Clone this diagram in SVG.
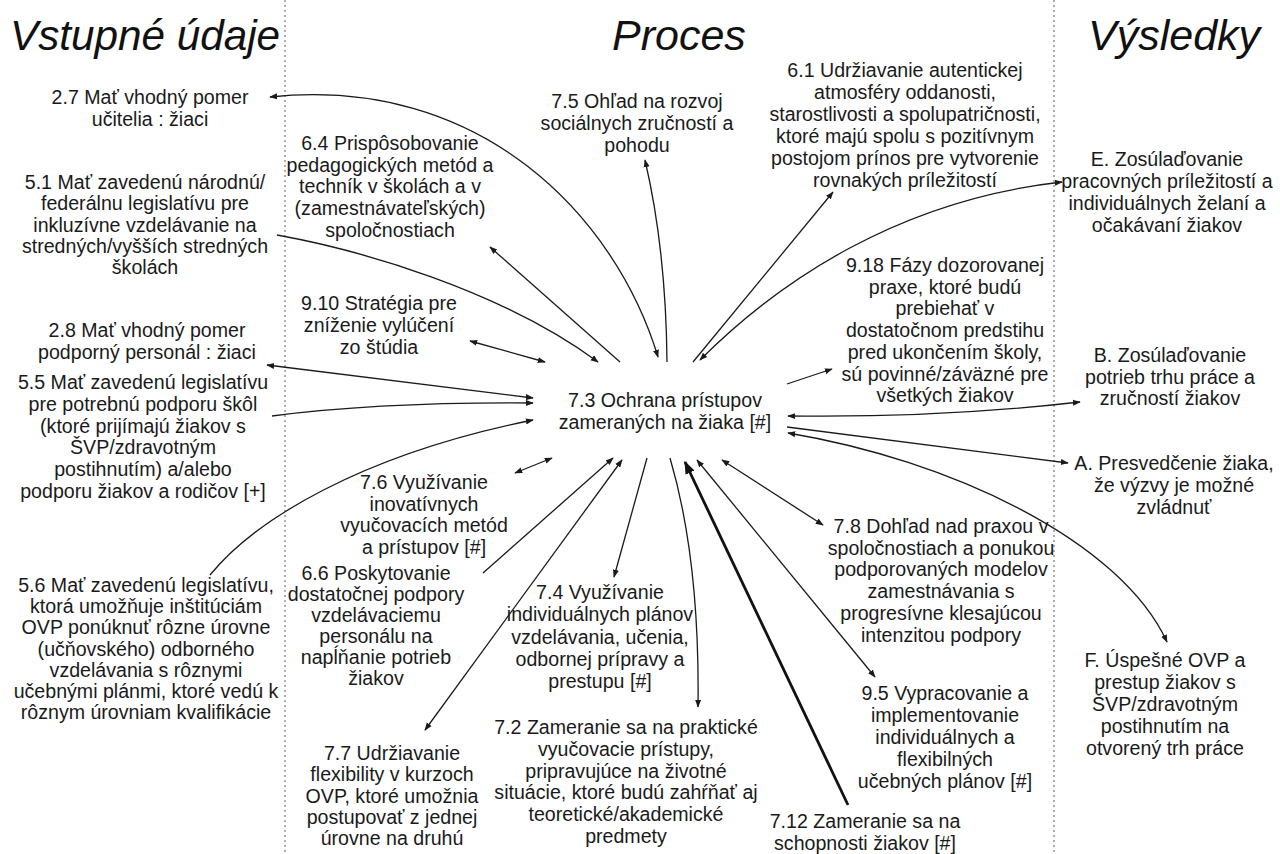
<svg xmlns="http://www.w3.org/2000/svg" width="1280" height="854" viewBox="0 0 1280 854">
<style>
.t{font-family:"Liberation Sans",Arial,Helvetica,sans-serif;font-size:19.6px;fill:#1a1a1a;text-anchor:middle}
.h{font-family:"Liberation Sans",Arial,Helvetica,sans-serif;font-size:43px;font-style:italic;fill:#111}
.c{fill:none;stroke:#1a1a1a;stroke-width:1.3;marker-end:url(#ah)}
.d{fill:none;stroke:#1a1a1a;stroke-width:1.3;marker-start:url(#ah);marker-end:url(#ah)}
.k{fill:none;stroke:#111;stroke-width:2.8;marker-end:url(#ahb)}
.dv{stroke:#999;stroke-width:1.6;stroke-dasharray:2 3}
</style>
<defs>
<marker id="ah" viewBox="0 0 10 10" refX="9" refY="5" markerWidth="8" markerHeight="8" markerUnits="userSpaceOnUse" orient="auto-start-reverse"><path d="M0,1.2 L10,5 L0,8.8 z" fill="#1a1a1a"/></marker>
<marker id="ahb" viewBox="0 0 10 10" refX="9" refY="5" markerWidth="13" markerHeight="13" markerUnits="userSpaceOnUse" orient="auto"><path d="M0,1.2 L10,5 L0,8.8 z" fill="#111"/></marker>
</defs>
<rect width="1280" height="854" fill="#fff"/>
<g id="dividers">
<line class="dv" x1="285" y1="0" x2="285" y2="854"/>
<line class="dv" x1="1054" y1="0" x2="1054" y2="854"/>
</g>
<g id="titles">
<text class="h" x="10" y="50" textLength="270" lengthAdjust="spacingAndGlyphs">Vstupné údaje</text>
<text class="h" x="612" y="50">Proces</text>
<text class="h" x="1088" y="50">Výsledky</text>
</g>
<g id="connectors">
<path class="d" d="M270 97 C480 75 615 215 658 357"/>
<path class="c" d="M277 235 C360 250 500 290 598 362"/>
<path class="c" d="M620 362 L490 247"/>
<path class="d" d="M470 341 L545 362"/>
<path class="c" d="M667 362 Q666 250 645 160"/>
<path class="c" d="M693 362 L833 192"/>
<path class="d" d="M700 360 C780 280 900 200 1062 182"/>
<path class="c" d="M787 384 L832 369"/>
<path class="d" d="M788 416 Q940 418 1080 402"/>
<path class="c" d="M787 427 L1068 463"/>
<path class="d" d="M788 433 C950 460 1120 540 1167 642"/>
<path class="d" d="M722 460 L823 525"/>
<path class="d" d="M697 460 L875 677"/>
<path class="k" d="M848 805 L685 462"/>
<path class="c" d="M670 458 Q700 560 698 707"/>
<path class="c" d="M647 458 L614 577"/>
<path class="d" d="M622 460 L425 730"/>
<path class="c" d="M483 573 L613 458"/>
<path class="d" d="M515 473 L552 458"/>
<path class="c" d="M210 575 C255 520 360 455 533 420"/>
<path class="c" d="M272 416 Q380 402 533 403"/>
<path class="d" d="M267 365 Q400 382 533 398"/>
</g>
<g id="n27"><text class="t" x="150" y="104">2.7 Mať vhodný pomer<tspan x="150" dy="21.5">učitelia : žiaci</tspan></text></g>
<g id="n51"><text class="t" x="145" y="189">5.1 Mať zavedenú národnú/<tspan x="145" dy="21.3">federálnu legislatívu pre</tspan><tspan x="145" dy="21.3">inkluzívne vzdelávanie na</tspan><tspan x="145" dy="21.3">stredných/vyšších stredných</tspan><tspan x="145" dy="21.3">školách</tspan></text></g>
<g id="n28"><text class="t" x="147" y="337">2.8 Mať vhodný pomer<tspan x="147" dy="22">podporný personál : žiaci</tspan></text></g>
<g id="n55"><text class="t" x="143" y="389">5.5 Mať zavedenú legislatívu<tspan x="143" dy="21.8">pre potrebnú podporu škôl</tspan><tspan x="143" dy="21.8">(ktoré prijímajú žiakov s</tspan><tspan x="143" dy="21.8">ŠVP/zdravotným</tspan><tspan x="143" dy="21.8">postihnutím) a/alebo</tspan><tspan x="143" dy="21.8">podporu žiakov a rodičov [+]</tspan></text></g>
<g id="n56"><text class="t" x="146" y="592">5.6 Mať zavedenú legislatívu,<tspan x="146" dy="21.2">ktorá umožňuje inštitúciám</tspan><tspan x="146" dy="21.2">OVP ponúknuť rôzne úrovne</tspan><tspan x="146" dy="21.2">(učňovského) odborného</tspan><tspan x="146" dy="21.2">vzdelávania s rôznymi</tspan><tspan x="146" dy="21.2">učebnými plánmi, ktoré vedú k</tspan><tspan x="146" dy="21.2">rôznym úrovniam kvalifikácie</tspan></text></g>
<g id="n64"><text class="t" x="390" y="150">6.4 Prispôsobovanie<tspan x="390" dy="21.7">pedagogických metód a</tspan><tspan x="390" dy="21.7">techník v školách a v</tspan><tspan x="390" dy="21.7">(zamestnávateľských)</tspan><tspan x="390" dy="21.7">spoločnostiach</tspan></text></g>
<g id="n75"><text class="t" x="637" y="108">7.5 Ohľad na rozvoj<tspan x="637" dy="22">sociálnych zručností a</tspan><tspan x="637" dy="22">pohodu</tspan></text></g>
<g id="n61"><text class="t" x="905" y="77">6.1 Udržiavanie autentickej<tspan x="905" dy="22">atmosféry oddanosti,</tspan><tspan x="905" dy="22">starostlivosti a spolupatričnosti,</tspan><tspan x="905" dy="22">ktoré majú spolu s pozitívnym</tspan><tspan x="905" dy="22">postojom prínos pre vytvorenie</tspan><tspan x="905" dy="22">rovnakých príležitostí</tspan></text></g>
<g id="n910"><text class="t" x="379" y="310">9.10 Stratégia pre<tspan x="379" dy="22">zníženie vylúčení</tspan><tspan x="379" dy="22">zo štúdia</tspan></text></g>
<g id="n73"><text class="t" x="665" y="407">7.3 Ochrana prístupov<tspan x="665" dy="22">zameraných na žiaka [#]</tspan></text></g>
<g id="n918"><text class="t" x="945" y="272">9.18 Fázy dozorovanej<tspan x="945" dy="21.7">praxe, ktoré budú</tspan><tspan x="945" dy="21.7">prebiehať v</tspan><tspan x="945" dy="21.7">dostatočnom predstihu</tspan><tspan x="945" dy="21.7">pred ukončením školy,</tspan><tspan x="945" dy="21.7">sú povinné/záväzné pre</tspan><tspan x="945" dy="21.7">všetkých žiakov</tspan></text></g>
<g id="n76"><text class="t" x="424" y="489">7.6 Využívanie<tspan x="424" dy="21.7">inovatívnych</tspan><tspan x="424" dy="21.7">vyučovacích metód</tspan><tspan x="424" dy="21.7">a prístupov [#]</tspan></text></g>
<g id="n66"><text class="t" x="376" y="580">6.6 Poskytovanie<tspan x="376" dy="21">dostatočnej podpory</tspan><tspan x="376" dy="21">vzdelávaciemu</tspan><tspan x="376" dy="21">personálu na</tspan><tspan x="376" dy="21">napĺňanie potrieb</tspan><tspan x="376" dy="21">žiakov</tspan></text></g>
<g id="n74"><text class="t" x="600" y="599">7.4 Využívanie<tspan x="600" dy="22.3">individuálnych plánov</tspan><tspan x="600" dy="22.3">vzdelávania, učenia,</tspan><tspan x="600" dy="22.3">odbornej prípravy a</tspan><tspan x="600" dy="22.3">prestupu [#]</tspan></text></g>
<g id="n77"><text class="t" x="392" y="760">7.7 Udržiavanie<tspan x="392" dy="21.3">flexibility v kurzoch</tspan><tspan x="392" dy="21.3">OVP, ktoré umožnia</tspan><tspan x="392" dy="21.3">postupovať z jednej</tspan><tspan x="392" dy="21.3">úrovne na druhú</tspan></text></g>
<g id="n72"><text class="t" x="626" y="734">7.2 Zameranie sa na praktické<tspan x="626" dy="21.8">vyučovacie prístupy,</tspan><tspan x="626" dy="21.8">pripravujúce na životné</tspan><tspan x="626" dy="21.8">situácie, ktoré budú zahŕňať aj</tspan><tspan x="626" dy="21.8">teoretické/akademické</tspan><tspan x="626" dy="21.8">predmety</tspan></text></g>
<g id="n712"><text class="t" x="865" y="828">7.12 Zameranie sa na<tspan x="865" dy="22">schopnosti žiakov [#]</tspan></text></g>
<g id="n78"><text class="t" x="941" y="533">7.8 Dohľad nad praxou v<tspan x="941" dy="21.7">spoločnostiach a ponukou</tspan><tspan x="941" dy="21.7">podporovaných modelov</tspan><tspan x="941" dy="21.7">zamestnávania s</tspan><tspan x="941" dy="21.7">progresívne klesajúcou</tspan><tspan x="941" dy="21.7">intenzitou podpory</tspan></text></g>
<g id="n95"><text class="t" x="945" y="700">9.5 Vypracovanie a<tspan x="945" dy="22">implementovanie</tspan><tspan x="945" dy="22">individuálnych a</tspan><tspan x="945" dy="22">flexibilných</tspan><tspan x="945" dy="22">učebných plánov [#]</tspan></text></g>
<g id="nE"><text class="t" x="1167" y="166">E. Zosúlaďovanie<tspan x="1167" dy="22">pracovných príležitostí a</tspan><tspan x="1167" dy="22">individuálnych želaní a</tspan><tspan x="1167" dy="22">očakávaní žiakov</tspan></text></g>
<g id="nB"><text class="t" x="1170" y="362">B. Zosúlaďovanie<tspan x="1170" dy="21.7">potrieb trhu práce a</tspan><tspan x="1170" dy="21.7">zručností žiakov</tspan></text></g>
<g id="nA"><text class="t" x="1174" y="470">A. Presvedčenie žiaka,<tspan x="1174" dy="22">že výzvy je možné</tspan><tspan x="1174" dy="22">zvládnuť</tspan></text></g>
<g id="nF"><text class="t" x="1165" y="667">F. Úspešné OVP a<tspan x="1165" dy="22">prestup žiakov s</tspan><tspan x="1165" dy="22">ŠVP/zdravotným</tspan><tspan x="1165" dy="22">postihnutím na</tspan><tspan x="1165" dy="22">otvorený trh práce</tspan></text></g>
</svg>
